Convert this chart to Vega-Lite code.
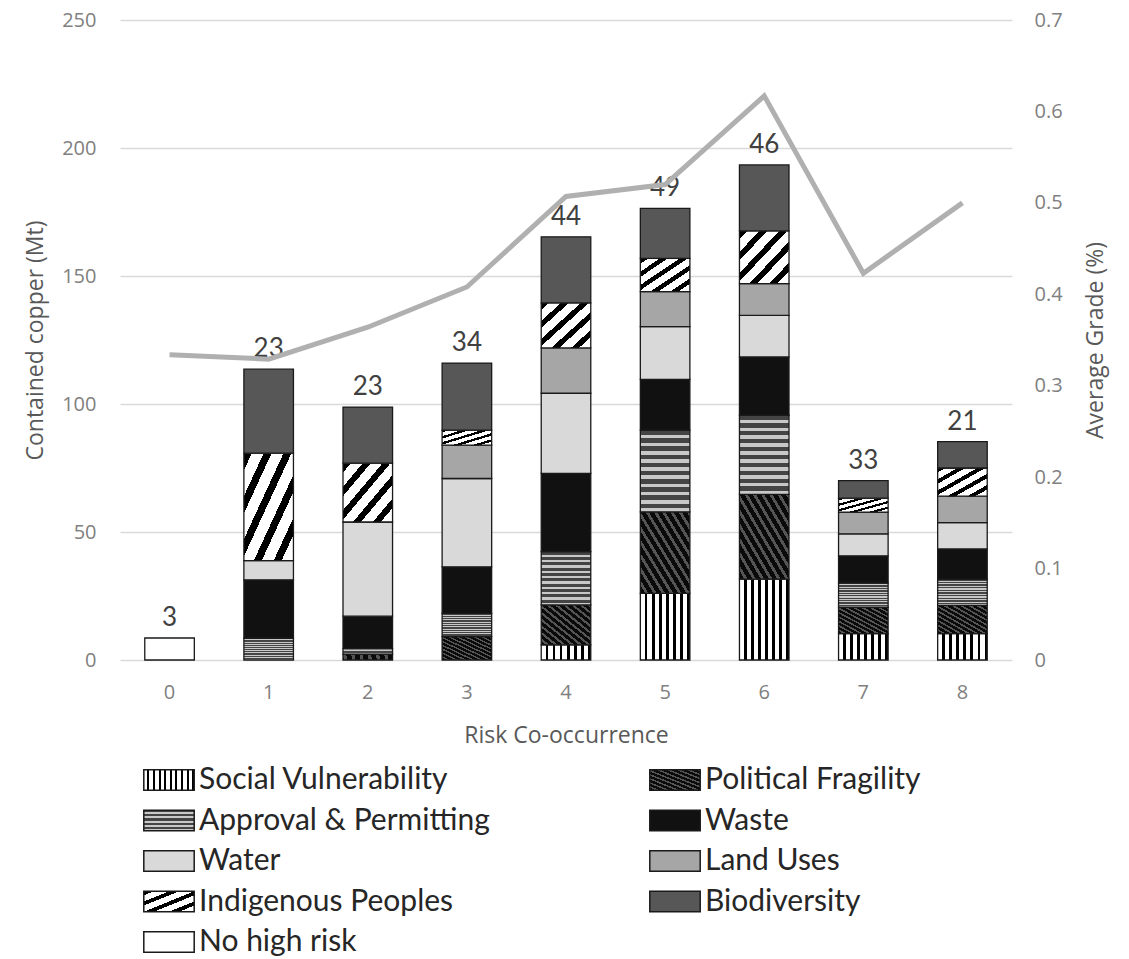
{
  "$schema": "https://vega.github.io/schema/vega-lite/v6.json",
  "width": 892,
  "height": 640,
  "autosize": {"type": "none"},
  "padding": {"left": 120, "top": 20, "right": 117, "bottom": 299},
  "background": "white",
  "config": {
    "view": {"stroke": null},
    "font": "Open Sans",
    "axis": {"labelFont": "Open Sans", "titleFont": "Open Sans", "labelColor": "#808080", "titleColor": "#595959", "titleFontWeight": "normal", "labelFontSize": 20, "titleFontSize": 23}
  },
  "datasets": {
    "bars": [
      {"risk": 0, "cat": "No high risk", "k": 8, "value": 8.6},
      {"risk": 1, "cat": "Approval & Permitting", "k": 2, "value": 8.5},
      {"risk": 1, "cat": "Waste", "k": 3, "value": 22.8},
      {"risk": 1, "cat": "Water", "k": 4, "value": 7.5},
      {"risk": 1, "cat": "Indigenous Peoples", "k": 6, "value": 42.0},
      {"risk": 1, "cat": "Biodiversity", "k": 7, "value": 32.8},
      {"risk": 2, "cat": "Political Fragility", "k": 1, "value": 2.3},
      {"risk": 2, "cat": "Approval & Permitting", "k": 2, "value": 2.2},
      {"risk": 2, "cat": "Waste", "k": 3, "value": 12.6},
      {"risk": 2, "cat": "Water", "k": 4, "value": 36.8},
      {"risk": 2, "cat": "Indigenous Peoples", "k": 6, "value": 23.0},
      {"risk": 2, "cat": "Biodiversity", "k": 7, "value": 21.9},
      {"risk": 3, "cat": "Political Fragility", "k": 1, "value": 9.1},
      {"risk": 3, "cat": "Approval & Permitting", "k": 2, "value": 9.1},
      {"risk": 3, "cat": "Waste", "k": 3, "value": 18.2},
      {"risk": 3, "cat": "Water", "k": 4, "value": 34.5},
      {"risk": 3, "cat": "Land Uses", "k": 5, "value": 13.0},
      {"risk": 3, "cat": "Indigenous Peoples", "k": 6, "value": 5.9},
      {"risk": 3, "cat": "Biodiversity", "k": 7, "value": 26.2},
      {"risk": 4, "cat": "Social Vulnerability", "k": 0, "value": 5.9},
      {"risk": 4, "cat": "Political Fragility", "k": 1, "value": 15.6},
      {"risk": 4, "cat": "Approval & Permitting", "k": 2, "value": 20.8},
      {"risk": 4, "cat": "Waste", "k": 3, "value": 30.6},
      {"risk": 4, "cat": "Water", "k": 4, "value": 31.3},
      {"risk": 4, "cat": "Land Uses", "k": 5, "value": 17.7},
      {"risk": 4, "cat": "Indigenous Peoples", "k": 6, "value": 17.6},
      {"risk": 4, "cat": "Biodiversity", "k": 7, "value": 25.8},
      {"risk": 5, "cat": "Social Vulnerability", "k": 0, "value": 26.0},
      {"risk": 5, "cat": "Political Fragility", "k": 1, "value": 31.9},
      {"risk": 5, "cat": "Approval & Permitting", "k": 2, "value": 31.9},
      {"risk": 5, "cat": "Waste", "k": 3, "value": 19.8},
      {"risk": 5, "cat": "Water", "k": 4, "value": 20.6},
      {"risk": 5, "cat": "Land Uses", "k": 5, "value": 13.7},
      {"risk": 5, "cat": "Indigenous Peoples", "k": 6, "value": 13.0},
      {"risk": 5, "cat": "Biodiversity", "k": 7, "value": 19.5},
      {"risk": 6, "cat": "Social Vulnerability", "k": 0, "value": 31.6},
      {"risk": 6, "cat": "Political Fragility", "k": 1, "value": 33.1},
      {"risk": 6, "cat": "Approval & Permitting", "k": 2, "value": 30.9},
      {"risk": 6, "cat": "Waste", "k": 3, "value": 22.8},
      {"risk": 6, "cat": "Water", "k": 4, "value": 16.2},
      {"risk": 6, "cat": "Land Uses", "k": 5, "value": 12.4},
      {"risk": 6, "cat": "Indigenous Peoples", "k": 6, "value": 20.6},
      {"risk": 6, "cat": "Biodiversity", "k": 7, "value": 25.8},
      {"risk": 7, "cat": "Social Vulnerability", "k": 0, "value": 10.3},
      {"risk": 7, "cat": "Political Fragility", "k": 1, "value": 10.3},
      {"risk": 7, "cat": "Approval & Permitting", "k": 2, "value": 9.5},
      {"risk": 7, "cat": "Waste", "k": 3, "value": 10.6},
      {"risk": 7, "cat": "Water", "k": 4, "value": 8.6},
      {"risk": 7, "cat": "Land Uses", "k": 5, "value": 8.5},
      {"risk": 7, "cat": "Indigenous Peoples", "k": 6, "value": 5.4},
      {"risk": 7, "cat": "Biodiversity", "k": 7, "value": 6.9},
      {"risk": 8, "cat": "Social Vulnerability", "k": 0, "value": 10.3},
      {"risk": 8, "cat": "Political Fragility", "k": 1, "value": 11.0},
      {"risk": 8, "cat": "Approval & Permitting", "k": 2, "value": 10.3},
      {"risk": 8, "cat": "Waste", "k": 3, "value": 11.8},
      {"risk": 8, "cat": "Water", "k": 4, "value": 10.3},
      {"risk": 8, "cat": "Land Uses", "k": 5, "value": 10.3},
      {"risk": 8, "cat": "Indigenous Peoples", "k": 6, "value": 11.0},
      {"risk": 8, "cat": "Biodiversity", "k": 7, "value": 10.3}
    ],
    "summary": [
      {"risk": 0, "grade": 0.334, "n": 3},
      {"risk": 1, "grade": 0.329, "n": 23},
      {"risk": 2, "grade": 0.364, "n": 23},
      {"risk": 3, "grade": 0.408, "n": 34},
      {"risk": 4, "grade": 0.507, "n": 44},
      {"risk": 5, "grade": 0.520, "n": 49},
      {"risk": 6, "grade": 0.617, "n": 46},
      {"risk": 7, "grade": 0.423, "n": 33},
      {"risk": 8, "grade": 0.500, "n": 21}
    ]
  },
  "layer": [
    {
      "layer": [
        {
          "data": {"name": "bars"},
          "mark": {"type": "bar", "stroke": "#1a1a1a", "strokeWidth": 1.3},
          "encoding": {
            "x": {"field": "risk", "type": "ordinal", "scale": {"paddingInner": 0.5, "paddingOuter": 0.25},
              "axis": {"title": "Risk Co-occurrence", "labelAngle": 0, "domain": false, "ticks": false, "labelPadding": 22, "titlePadding": 22}},
            "y": {"field": "value", "type": "quantitative", "stack": "zero", "scale": {"domain": [0, 250]},
              "axis": {"title": "Contained copper (Mt)", "values": [0, 50, 100, 150, 200, 250], "grid": true, "gridColor": "#d9d9d9", "gridWidth": 1.5, "domain": false, "ticks": false, "labelPadding": 24, "titlePadding": 14}},
            "order": {"field": "k", "type": "quantitative", "sort": "ascending"},
            "opacity": {
              "field": "cat", "type": "nominal",
              "scale": {
                "domain": ["Social Vulnerability", "Political Fragility", "Approval & Permitting", "Waste", "Water", "Land Uses", "Indigenous Peoples", "Biodiversity", "No high risk"],
                "range": [1, 1, 1, 1, 1, 1, 1, 1, 1]
              },
              "legend": {
                "title": null,
                "orient": "none",
                "direction": "horizontal",
                "legendX": 34,
                "legendY": 745,
                "columns": 2,
                "columnPadding": 156,
                "rowPadding": 10.5,
                "padding": 0,
                "labelFont": "Lato",
                "labelFontSize": 30,
                "labelColor": "#262626",
                "labelLimit": 500,
                "labelOffset": 15,
                "symbolType": "M-2.1,-0.85H2.1V0.85H-2.1Z",
                "symbolSize": 576,
                "symbolStrokeColor": "#1a1a1a",
                "symbolStrokeWidth": 1.5,
                "encoding": {
                  "symbols": {
                    "stroke": {"value": "#1a1a1a"},
                    "strokeWidth": {"value": 1.5},
                    "fill": {
                      "condition": [
                        {"test": "datum.value === 'Social Vulnerability'", "value": {"gradient": "linear", "x1": 0, "y1": 0, "x2": 1, "y2": 0, "stops": [
                          {"offset": 0, "color": "#ffffff"}, {"offset": 0.07, "color": "#ffffff"}, {"offset": 0.07, "color": "#000000"}, {"offset": 0.111, "color": "#000000"},
                          {"offset": 0.111, "color": "#ffffff"}, {"offset": 0.181, "color": "#ffffff"}, {"offset": 0.181, "color": "#000000"}, {"offset": 0.222, "color": "#000000"},
                          {"offset": 0.222, "color": "#ffffff"}, {"offset": 0.292, "color": "#ffffff"}, {"offset": 0.292, "color": "#000000"}, {"offset": 0.333, "color": "#000000"},
                          {"offset": 0.333, "color": "#ffffff"}, {"offset": 0.403, "color": "#ffffff"}, {"offset": 0.403, "color": "#000000"}, {"offset": 0.444, "color": "#000000"},
                          {"offset": 0.444, "color": "#ffffff"}, {"offset": 0.514, "color": "#ffffff"}, {"offset": 0.514, "color": "#000000"}, {"offset": 0.556, "color": "#000000"},
                          {"offset": 0.556, "color": "#ffffff"}, {"offset": 0.626, "color": "#ffffff"}, {"offset": 0.626, "color": "#000000"}, {"offset": 0.667, "color": "#000000"},
                          {"offset": 0.667, "color": "#ffffff"}, {"offset": 0.737, "color": "#ffffff"}, {"offset": 0.737, "color": "#000000"}, {"offset": 0.778, "color": "#000000"},
                          {"offset": 0.778, "color": "#ffffff"}, {"offset": 0.848, "color": "#ffffff"}, {"offset": 0.848, "color": "#000000"}, {"offset": 0.889, "color": "#000000"},
                          {"offset": 0.889, "color": "#ffffff"}, {"offset": 0.959, "color": "#ffffff"}, {"offset": 0.959, "color": "#000000"}, {"offset": 1, "color": "#000000"}]}},
                        {"test": "datum.value === 'Approval & Permitting'", "value": {"gradient": "linear", "x1": 0, "y1": 0, "x2": 0, "y2": 1, "stops": [
                          {"offset": 0, "color": "#444444"}, {"offset": 0.1, "color": "#444444"}, {"offset": 0.1, "color": "#c8c8c8"}, {"offset": 0.2, "color": "#c8c8c8"},
                          {"offset": 0.2, "color": "#444444"}, {"offset": 0.3, "color": "#444444"}, {"offset": 0.3, "color": "#c8c8c8"}, {"offset": 0.4, "color": "#c8c8c8"},
                          {"offset": 0.4, "color": "#444444"}, {"offset": 0.5, "color": "#444444"}, {"offset": 0.5, "color": "#c8c8c8"}, {"offset": 0.6, "color": "#c8c8c8"},
                          {"offset": 0.6, "color": "#444444"}, {"offset": 0.7, "color": "#444444"}, {"offset": 0.7, "color": "#c8c8c8"}, {"offset": 0.8, "color": "#c8c8c8"},
                          {"offset": 0.8, "color": "#444444"}, {"offset": 0.9, "color": "#444444"}, {"offset": 0.9, "color": "#c8c8c8"}, {"offset": 1, "color": "#c8c8c8"}]}},
                        {"test": "datum.value === 'Political Fragility'", "value": {"gradient": "linear", "x1": 0, "y1": 1, "x2": 1, "y2": 0, "stops": [
                          {"offset": 0, "color": "#0a0a0a"}, {"offset": 0.06, "color": "#0a0a0a"}, {"offset": 0.06, "color": "#555555"}, {"offset": 0.1, "color": "#555555"},
                          {"offset": 0.1, "color": "#0a0a0a"}, {"offset": 0.16, "color": "#0a0a0a"}, {"offset": 0.16, "color": "#555555"}, {"offset": 0.2, "color": "#555555"},
                          {"offset": 0.2, "color": "#0a0a0a"}, {"offset": 0.26, "color": "#0a0a0a"}, {"offset": 0.26, "color": "#555555"}, {"offset": 0.3, "color": "#555555"},
                          {"offset": 0.3, "color": "#0a0a0a"}, {"offset": 0.36, "color": "#0a0a0a"}, {"offset": 0.36, "color": "#555555"}, {"offset": 0.4, "color": "#555555"},
                          {"offset": 0.4, "color": "#0a0a0a"}, {"offset": 0.46, "color": "#0a0a0a"}, {"offset": 0.46, "color": "#555555"}, {"offset": 0.5, "color": "#555555"},
                          {"offset": 0.5, "color": "#0a0a0a"}, {"offset": 0.56, "color": "#0a0a0a"}, {"offset": 0.56, "color": "#555555"}, {"offset": 0.6, "color": "#555555"},
                          {"offset": 0.6, "color": "#0a0a0a"}, {"offset": 0.66, "color": "#0a0a0a"}, {"offset": 0.66, "color": "#555555"}, {"offset": 0.7, "color": "#555555"},
                          {"offset": 0.7, "color": "#0a0a0a"}, {"offset": 0.76, "color": "#0a0a0a"}, {"offset": 0.76, "color": "#555555"}, {"offset": 0.8, "color": "#555555"},
                          {"offset": 0.8, "color": "#0a0a0a"}, {"offset": 0.86, "color": "#0a0a0a"}, {"offset": 0.86, "color": "#555555"}, {"offset": 0.9, "color": "#555555"},
                          {"offset": 0.9, "color": "#0a0a0a"}, {"offset": 0.96, "color": "#0a0a0a"}, {"offset": 0.96, "color": "#555555"}, {"offset": 1, "color": "#555555"}]}},
                        {"test": "datum.value === 'Indigenous Peoples'", "value": {"gradient": "linear", "x1": 0, "y1": 0, "x2": 1, "y2": 1, "stops": [
                          {"offset": 0, "color": "#000000"}, {"offset": 0.1, "color": "#000000"}, {"offset": 0.1, "color": "#ffffff"}, {"offset": 0.25, "color": "#ffffff"},
                          {"offset": 0.25, "color": "#000000"}, {"offset": 0.35, "color": "#000000"}, {"offset": 0.35, "color": "#ffffff"}, {"offset": 0.5, "color": "#ffffff"},
                          {"offset": 0.5, "color": "#000000"}, {"offset": 0.6, "color": "#000000"}, {"offset": 0.6, "color": "#ffffff"}, {"offset": 0.75, "color": "#ffffff"},
                          {"offset": 0.75, "color": "#000000"}, {"offset": 0.85, "color": "#000000"}, {"offset": 0.85, "color": "#ffffff"}, {"offset": 1, "color": "#ffffff"}]}},
                        {"test": "datum.value === 'Waste'", "value": "#111111"},
                        {"test": "datum.value === 'Water'", "value": "#d9d9d9"},
                        {"test": "datum.value === 'Land Uses'", "value": "#a6a6a6"},
                        {"test": "datum.value === 'Biodiversity'", "value": "#575757"}
                      ],
                      "value": "#ffffff"
                    }
                  }
                }
              }
            },
            "fill": {
              "condition": [
                {"test": "datum['cat'] === 'Social Vulnerability'", "value": {"gradient": "linear", "x1": 0, "y1": 0, "x2": 1, "y2": 0, "stops": [
                  {"offset": 0, "color": "#ffffff"}, {"offset": 0.09, "color": "#ffffff"}, {"offset": 0.09, "color": "#000000"}, {"offset": 0.143, "color": "#000000"},
                  {"offset": 0.143, "color": "#ffffff"}, {"offset": 0.233, "color": "#ffffff"}, {"offset": 0.233, "color": "#000000"}, {"offset": 0.286, "color": "#000000"},
                  {"offset": 0.286, "color": "#ffffff"}, {"offset": 0.376, "color": "#ffffff"}, {"offset": 0.376, "color": "#000000"}, {"offset": 0.429, "color": "#000000"},
                  {"offset": 0.429, "color": "#ffffff"}, {"offset": 0.519, "color": "#ffffff"}, {"offset": 0.519, "color": "#000000"}, {"offset": 0.571, "color": "#000000"},
                  {"offset": 0.571, "color": "#ffffff"}, {"offset": 0.661, "color": "#ffffff"}, {"offset": 0.661, "color": "#000000"}, {"offset": 0.714, "color": "#000000"},
                  {"offset": 0.714, "color": "#ffffff"}, {"offset": 0.804, "color": "#ffffff"}, {"offset": 0.804, "color": "#000000"}, {"offset": 0.857, "color": "#000000"},
                  {"offset": 0.857, "color": "#ffffff"}, {"offset": 0.947, "color": "#ffffff"}, {"offset": 0.947, "color": "#000000"}, {"offset": 1, "color": "#000000"}]}},
                {"test": "datum['cat'] === 'Approval & Permitting'", "value": {"gradient": "linear", "x1": 0, "y1": 0, "x2": 0, "y2": 1, "stops": [
                  {"offset": 0, "color": "#444444"}, {"offset": 0.055, "color": "#444444"}, {"offset": 0.055, "color": "#c8c8c8"}, {"offset": 0.1, "color": "#c8c8c8"},
                  {"offset": 0.1, "color": "#444444"}, {"offset": 0.155, "color": "#444444"}, {"offset": 0.155, "color": "#c8c8c8"}, {"offset": 0.2, "color": "#c8c8c8"},
                  {"offset": 0.2, "color": "#444444"}, {"offset": 0.255, "color": "#444444"}, {"offset": 0.255, "color": "#c8c8c8"}, {"offset": 0.3, "color": "#c8c8c8"},
                  {"offset": 0.3, "color": "#444444"}, {"offset": 0.355, "color": "#444444"}, {"offset": 0.355, "color": "#c8c8c8"}, {"offset": 0.4, "color": "#c8c8c8"},
                  {"offset": 0.4, "color": "#444444"}, {"offset": 0.455, "color": "#444444"}, {"offset": 0.455, "color": "#c8c8c8"}, {"offset": 0.5, "color": "#c8c8c8"},
                  {"offset": 0.5, "color": "#444444"}, {"offset": 0.555, "color": "#444444"}, {"offset": 0.555, "color": "#c8c8c8"}, {"offset": 0.6, "color": "#c8c8c8"},
                  {"offset": 0.6, "color": "#444444"}, {"offset": 0.655, "color": "#444444"}, {"offset": 0.655, "color": "#c8c8c8"}, {"offset": 0.7, "color": "#c8c8c8"},
                  {"offset": 0.7, "color": "#444444"}, {"offset": 0.755, "color": "#444444"}, {"offset": 0.755, "color": "#c8c8c8"}, {"offset": 0.8, "color": "#c8c8c8"},
                  {"offset": 0.8, "color": "#444444"}, {"offset": 0.855, "color": "#444444"}, {"offset": 0.855, "color": "#c8c8c8"}, {"offset": 0.9, "color": "#c8c8c8"},
                  {"offset": 0.9, "color": "#444444"}, {"offset": 0.955, "color": "#444444"}, {"offset": 0.955, "color": "#c8c8c8"}, {"offset": 1, "color": "#c8c8c8"}]}},
                {"test": "datum['cat'] === 'Political Fragility'", "value": {"gradient": "linear", "x1": 0, "y1": 1, "x2": 1, "y2": 0, "stops": [
                  {"offset": 0, "color": "#0a0a0a"}, {"offset": 0.05, "color": "#0a0a0a"}, {"offset": 0.05, "color": "#555555"}, {"offset": 0.0833, "color": "#555555"},
                  {"offset": 0.0833, "color": "#0a0a0a"}, {"offset": 0.1333, "color": "#0a0a0a"}, {"offset": 0.1333, "color": "#555555"}, {"offset": 0.1667, "color": "#555555"},
                  {"offset": 0.1667, "color": "#0a0a0a"}, {"offset": 0.2167, "color": "#0a0a0a"}, {"offset": 0.2167, "color": "#555555"}, {"offset": 0.25, "color": "#555555"},
                  {"offset": 0.25, "color": "#0a0a0a"}, {"offset": 0.3, "color": "#0a0a0a"}, {"offset": 0.3, "color": "#555555"}, {"offset": 0.3333, "color": "#555555"},
                  {"offset": 0.3333, "color": "#0a0a0a"}, {"offset": 0.3833, "color": "#0a0a0a"}, {"offset": 0.3833, "color": "#555555"}, {"offset": 0.4167, "color": "#555555"},
                  {"offset": 0.4167, "color": "#0a0a0a"}, {"offset": 0.4667, "color": "#0a0a0a"}, {"offset": 0.4667, "color": "#555555"}, {"offset": 0.5, "color": "#555555"},
                  {"offset": 0.5, "color": "#0a0a0a"}, {"offset": 0.55, "color": "#0a0a0a"}, {"offset": 0.55, "color": "#555555"}, {"offset": 0.5833, "color": "#555555"},
                  {"offset": 0.5833, "color": "#0a0a0a"}, {"offset": 0.6333, "color": "#0a0a0a"}, {"offset": 0.6333, "color": "#555555"}, {"offset": 0.6667, "color": "#555555"},
                  {"offset": 0.6667, "color": "#0a0a0a"}, {"offset": 0.7167, "color": "#0a0a0a"}, {"offset": 0.7167, "color": "#555555"}, {"offset": 0.75, "color": "#555555"},
                  {"offset": 0.75, "color": "#0a0a0a"}, {"offset": 0.8, "color": "#0a0a0a"}, {"offset": 0.8, "color": "#555555"}, {"offset": 0.8333, "color": "#555555"},
                  {"offset": 0.8333, "color": "#0a0a0a"}, {"offset": 0.8833, "color": "#0a0a0a"}, {"offset": 0.8833, "color": "#555555"}, {"offset": 0.9167, "color": "#555555"},
                  {"offset": 0.9167, "color": "#0a0a0a"}, {"offset": 0.9667, "color": "#0a0a0a"}, {"offset": 0.9667, "color": "#555555"}, {"offset": 1, "color": "#555555"}]}},
                {"test": "datum['cat'] === 'Indigenous Peoples'", "value": {"gradient": "linear", "x1": 0, "y1": 0, "x2": 1, "y2": 1, "stops": [
                  {"offset": 0, "color": "#000000"}, {"offset": 0.08, "color": "#000000"}, {"offset": 0.08, "color": "#ffffff"}, {"offset": 0.2, "color": "#ffffff"},
                  {"offset": 0.2, "color": "#000000"}, {"offset": 0.28, "color": "#000000"}, {"offset": 0.28, "color": "#ffffff"}, {"offset": 0.4, "color": "#ffffff"},
                  {"offset": 0.4, "color": "#000000"}, {"offset": 0.48, "color": "#000000"}, {"offset": 0.48, "color": "#ffffff"}, {"offset": 0.6, "color": "#ffffff"},
                  {"offset": 0.6, "color": "#000000"}, {"offset": 0.68, "color": "#000000"}, {"offset": 0.68, "color": "#ffffff"}, {"offset": 0.8, "color": "#ffffff"},
                  {"offset": 0.8, "color": "#000000"}, {"offset": 0.88, "color": "#000000"}, {"offset": 0.88, "color": "#ffffff"}, {"offset": 1, "color": "#ffffff"}]}},
                {"test": "datum['cat'] === 'Waste'", "value": "#111111"},
                {"test": "datum['cat'] === 'Water'", "value": "#d9d9d9"},
                {"test": "datum['cat'] === 'Land Uses'", "value": "#a6a6a6"},
                {"test": "datum['cat'] === 'Biodiversity'", "value": "#575757"}
              ],
              "value": "#ffffff"
            }
          }
        },
        {
          "data": {"name": "bars"},
          "transform": [
            {"aggregate": [{"op": "sum", "field": "value", "as": "total"}], "groupby": ["risk"]},
            {"lookup": "risk", "from": {"data": {"name": "summary"}, "key": "risk", "fields": ["n"]}}
          ],
          "mark": {"type": "text", "font": "Lato", "fontSize": 26, "color": "#404040", "dy": -20, "baseline": "middle"},
          "encoding": {
            "x": {"field": "risk", "type": "ordinal"},
            "y": {"field": "total", "type": "quantitative", "scale": {"domain": [0, 250]}},
            "text": {"field": "n", "type": "quantitative"}
          }
        }
      ]
    },
    {
      "data": {"name": "summary"},
      "mark": {"type": "line", "color": "#b0b0b0", "strokeWidth": 5},
      "encoding": {
        "x": {"field": "risk", "type": "ordinal"},
        "y": {"field": "grade", "type": "quantitative", "scale": {"domain": [0, 0.7]},
          "axis": {"orient": "right", "title": "Average Grade (%)", "values": [0, 0.1, 0.2, 0.3, 0.4, 0.5, 0.6, 0.7], "format": "~g", "grid": false, "domain": false, "ticks": false, "labelPadding": 22, "titlePadding": 45, "titleAngle": 270}}
      }
    }
  ],
  "resolve": {"scale": {"y": "independent"}}
}
